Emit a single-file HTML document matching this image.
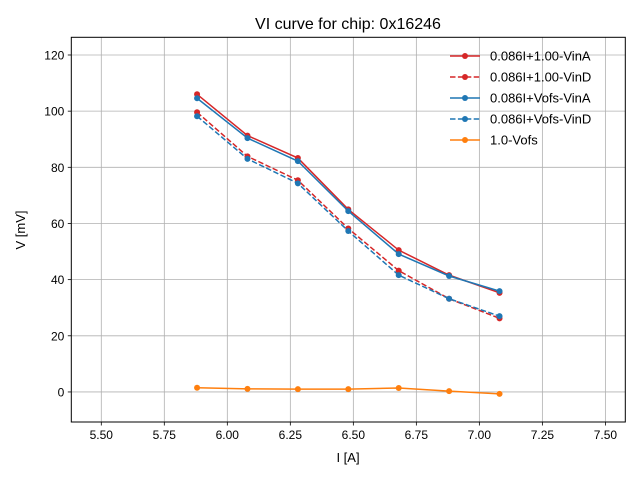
<!DOCTYPE html>
<html><head><meta charset="utf-8"><style>
body{margin:0;background:#fff;}
svg text{font-family:"Liberation Sans","DejaVu Sans",sans-serif;fill:#000;}
</style></head><body>
<svg id="chart" width="640" height="480" xmlns="http://www.w3.org/2000/svg">
<rect width="640" height="480" fill="#fff"/>
<g id="grid"></g>
<g id="series"></g>
<rect x="71.3" y="37.3" width="554" height="384.7" fill="none" stroke="#000" stroke-width="1"/>
<g id="ticks"></g>
<text x="348" y="29" font-size="16" text-anchor="middle">VI curve for chip: 0x16246</text>
<text x="348" y="462" font-size="13" text-anchor="middle">I [A]</text>
<text x="25" y="230" font-size="13" text-anchor="middle" transform="rotate(-90 25 230)">V [mV]</text>
<g id="legend"></g>
</svg>
<script>
const xValues = [5.88, 6.08, 6.28, 6.48, 6.68, 6.88, 7.08];
const redA = [106.0, 91.3, 83.3, 65.0, 50.5, 41.6, 35.3];
const redD = [99.6, 83.9, 75.4, 58.2, 43.2, 33.2, 26.2];
const blueA = [104.6, 90.4, 82.2, 64.4, 49.1, 41.3, 35.9];
const blueD = [98.2, 83.0, 74.3, 57.3, 41.6, 33.2, 27.0];
const orange = [1.5, 1.1, 1.0, 1.0, 1.4, 0.3, -0.7];
const xTicks = [5.5, 5.75, 6.0, 6.25, 6.5, 6.75, 7.0, 7.25, 7.5];
const xTickLabels = ["5.50","5.75","6.00","6.25","6.50","6.75","7.00","7.25","7.50"];
const yTicks = [0, 20, 40, 60, 80, 100, 120];
const seriesNames = ["0.086I+1.00-VinA","0.086I+1.00-VinD","0.086I+Vofs-VinA","0.086I+Vofs-VinD","1.0-Vofs"];

const NS = "http://www.w3.org/2000/svg";
const L=71.3,R=625.3,T=37.3,B=422;
const xMin=5.381,xMax=7.579,yMin=-10.7,yMax=126.3;
function sx(v){return L+(v-xMin)/(xMax-xMin)*(R-L);}
function sy(v){return B-(v-yMin)/(yMax-yMin)*(B-T);}
function mk(tag,attrs,parent){const e=document.createElementNS(NS,tag);for(const k in attrs)e.setAttribute(k,attrs[k]);parent.appendChild(e);return e;}
const grid=document.getElementById('grid'),ticks=document.getElementById('ticks');
xTicks.forEach((t,i)=>{
  const x=sx(t);
  const g=mk('line',{x1:x,x2:x,y1:T,y2:B,stroke:'#b0b0b0','stroke-width':0.8},grid);
  
  
  mk('line',{x1:x,x2:x,y1:B,y2:B+3.5,stroke:'#000','stroke-width':0.8},ticks);
  const tx=mk('text',{x:x,y:B+17,'font-size':12,'text-anchor':'middle'},ticks);
  tx.textContent=xTickLabels[i];
  
  
});
yTicks.forEach(t=>{
  const y=sy(t);
  const g=mk('line',{x1:L,x2:R,y1:y,y2:y,stroke:'#b0b0b0','stroke-width':0.8},grid);
  
  
  mk('line',{x1:L-3.5,x2:L,y1:y,y2:y,stroke:'#000','stroke-width':0.8},ticks);
  const tx=mk('text',{x:L-7,y:y+4.5,'font-size':12,'text-anchor':'end'},ticks);
  tx.textContent=String(t);
  
  
});
const ser=document.getElementById('series');
const defs=[[redA,'#d62728',null],[redD,'#d62728','5.5,2.4'],[blueA,'#1f77b4',null],[blueD,'#1f77b4','5.5,2.4'],[orange,'#ff7f0e',null]];
const names=['series-vofs1-vina','series-vofs1-vind','series-vofs-vina','series-vofs-vind','series-1-vofs'];
defs.forEach((d,si)=>{
  const g=mk('g',{},ser);
  
  
  const pts=xValues.map((x,i)=>sx(x)+','+sy(d[0][i])).join(' ');
  const a={points:pts,fill:'none',stroke:d[1],'stroke-width':1.5};
  if(d[2])a['stroke-dasharray']=d[2];
  mk('polyline',a,g);
  xValues.forEach((x,i)=>{
    const c=mk('circle',{cx:sx(x),cy:sy(d[0][i]),r:3,fill:d[1]},g);
    
    
  });
});
const leg=document.getElementById('legend');
defs.forEach((d,i)=>{
  const y=56+i*21;
  const g=mk('g',{},leg);
  
  
  const a={x1:450,x2:480,y1:y,y2:y,stroke:d[1],'stroke-width':1.5};
  if(d[2])a['stroke-dasharray']=d[2];
  mk('line',a,g);
  mk('circle',{cx:465,cy:y,r:3,fill:d[1]},g);
  const t=mk('text',{x:490,y:y+4.5,'font-size':13},g);
  t.textContent=seriesNames[i];
});
</script>
</body></html>
